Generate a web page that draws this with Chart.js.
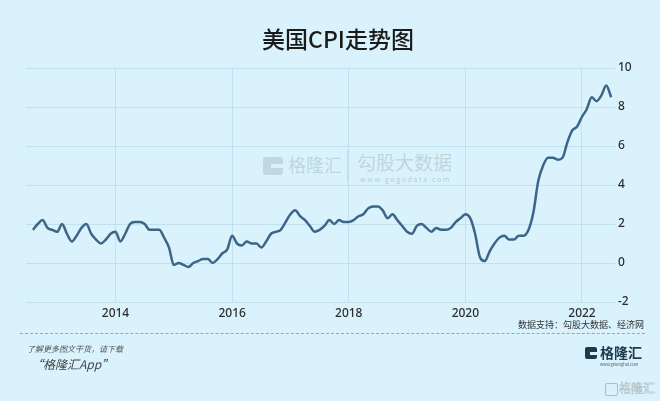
<!DOCTYPE html>
<html>
<head>
<meta charset="utf-8">
<script src="https://cdn.jsdelivr.net/npm/chart.js@4/dist/chart.umd.min.js"></script>
<style>
html,body{margin:0;padding:0;background:#d9f2fc;}
#wrap{position:relative;width:660px;height:401px;overflow:hidden;background:#d9f2fc;font-family:"Noto Sans CJK SC","Noto Sans",sans-serif;}
#c{position:absolute;left:0;top:0;}
.abs{position:absolute;white-space:nowrap;line-height:1;}
#title{left:338px;top:27px;transform:translateX(-50%);font-size:23px;color:#1b1b1b;font-weight:500;}
#src{right:16px;top:320px;font-size:9px;color:#333;}
#dash{left:20px;top:333px;width:625px;height:0;border-top:1px dashed #9aa6ac;}
#more{left:27px;top:345px;font-size:8px;color:#555;font-style:italic;}
#app{left:31px;top:358px;font-size:12px;color:#444;font-style:italic;}
#logoIcon{left:585px;top:347px;width:12px;height:12px;background:#1f3a4d;border-radius:2px;}
#logoIcon2{left:590px;top:352px;width:7px;height:3px;background:#d9f2fc;}
#logoTxt{left:600px;top:345px;font-size:14px;font-weight:700;color:#1f3a4d;}
#logoUrl{left:600px;top:362px;font-size:4px;color:#556;}
#wmIcon{left:263px;top:157px;width:20px;height:18px;background:rgba(130,150,160,0.28);border-radius:3px;}
#wmIcon2{left:271px;top:164px;width:12px;height:4px;background:#d9f2fc;}
#wm1{left:288px;top:155px;font-size:18px;color:rgba(130,150,160,0.32);}
#wmSep{left:347px;top:150px;width:1px;height:32px;background:rgba(130,150,160,0.22);}
#wm2{left:357px;top:152px;font-size:19px;color:rgba(130,150,160,0.32);}
#wm3{left:360px;top:176px;font-size:7px;letter-spacing:1.6px;color:rgba(130,150,160,0.42);}
#bIcon{left:605px;top:383px;width:11px;height:11px;border:1px solid rgba(160,175,182,0.8);border-radius:2px;}
#bTxt{left:619px;top:382px;font-size:12px;color:rgba(255,255,255,0.85);-webkit-text-stroke:0.5px rgba(150,165,172,0.8);}
</style>
</head>
<body>
<div id="wrap">
  <div class="abs" id="wmIcon"></div><div class="abs" id="wmIcon2"></div>
  <div class="abs" id="wm1">格隆汇</div>
  <div class="abs" id="wmSep"></div>
  <div class="abs" id="wm2">勾股大数据</div>
  <div class="abs" id="wm3">www.gogudata.com</div>
  <canvas id="c" width="660" height="401"></canvas>
  <div class="abs" id="title">美国CPI走势图</div>
  <div class="abs" id="src">数据支持：勾股大数据、经济网</div>
  <div class="abs" id="dash"></div>
  <div class="abs" id="more">了解更多图文干货，请下载</div>
  <div class="abs" id="app">“格隆汇App”</div>
  <div class="abs" id="logoIcon"></div><div class="abs" id="logoIcon2"></div>
  <div class="abs" id="logoTxt">格隆汇</div>
  <div class="abs" id="logoUrl">www.gelonghui.com</div>
  <div class="abs" id="bIcon"></div>
  <div class="abs" id="bTxt">格隆汇</div>
</div>
<script>
const months = [
 '2012-08','2012-09','2012-10','2012-11','2012-12',
 '2013-01','2013-02','2013-03','2013-04','2013-05','2013-06','2013-07','2013-08','2013-09','2013-10','2013-11','2013-12',
 '2014-01','2014-02','2014-03','2014-04','2014-05','2014-06','2014-07','2014-08','2014-09','2014-10','2014-11','2014-12',
 '2015-01','2015-02','2015-03','2015-04','2015-05','2015-06','2015-07','2015-08','2015-09','2015-10','2015-11','2015-12',
 '2016-01','2016-02','2016-03','2016-04','2016-05','2016-06','2016-07','2016-08','2016-09','2016-10','2016-11','2016-12',
 '2017-01','2017-02','2017-03','2017-04','2017-05','2017-06','2017-07','2017-08','2017-09','2017-10','2017-11','2017-12',
 '2018-01','2018-02','2018-03','2018-04','2018-05','2018-06','2018-07','2018-08','2018-09','2018-10','2018-11','2018-12',
 '2019-01','2019-02','2019-03','2019-04','2019-05','2019-06','2019-07','2019-08','2019-09','2019-10','2019-11','2019-12',
 '2020-01','2020-02','2020-03','2020-04','2020-05','2020-06','2020-07','2020-08','2020-09','2020-10','2020-11','2020-12',
 '2021-01','2021-02','2021-03','2021-04','2021-05','2021-06','2021-07','2021-08','2021-09','2021-10','2021-11','2021-12',
 '2022-01','2022-02','2022-03','2022-04','2022-05','2022-06','2022-07'
];
const cpi = [
 1.7,2.0,2.2,1.8,1.7,
 1.6,2.0,1.5,1.1,1.4,1.8,2.0,1.5,1.2,1.0,1.2,1.5,
 1.6,1.1,1.5,2.0,2.1,2.1,2.0,1.7,1.7,1.7,1.3,0.8,
 -0.1,0.0,-0.1,-0.2,0.0,0.1,0.2,0.2,0.0,0.2,0.5,0.7,
 1.4,1.0,0.9,1.1,1.0,1.0,0.8,1.1,1.5,1.6,1.7,2.1,
 2.5,2.7,2.4,2.2,1.9,1.6,1.7,1.9,2.2,2.0,2.2,2.1,
 2.1,2.2,2.4,2.5,2.8,2.9,2.9,2.7,2.3,2.5,2.2,1.9,
 1.6,1.5,1.9,2.0,1.8,1.6,1.8,1.7,1.7,1.8,2.1,2.3,
 2.5,2.3,1.5,0.3,0.1,0.6,1.0,1.3,1.4,1.2,1.2,1.4,
 1.4,1.7,2.6,4.2,5.0,5.4,5.4,5.3,5.4,6.2,6.8,7.0,
 7.5,7.9,8.5,8.3,8.6,9.1,8.5
];
const xTicks = [2014, 2016, 2018, 2020, 2022];
const yTicks = [-2, 0, 2, 4, 6, 8, 10];

function toYear(m){ const p = m.split('-'); return Number(p[0]) + (Number(p[1]) - 1) / 12; }
const points = months.map((m, i) => ({ x: toYear(m), y: cpi[i] }));

const gridColor = 'rgba(170,208,228,0.5)';
const tickFont = { family: '"Noto Sans", sans-serif', size: 12, weight: '500' };

new Chart(document.getElementById('c'), {
  type: 'line',
  data: { datasets: [{
    data: points,
    borderColor: '#3b6687',
    borderWidth: 2.5,
    pointRadius: 0,
    cubicInterpolationMode: 'monotone',
    fill: false
  }]},
  options: {
    responsive: false,
    animation: false,
    devicePixelRatio: 1,
    layout: { padding: { left: 26, top: 68, right: 0, bottom: 79 } },
    plugins: { legend: { display: false }, tooltip: { enabled: false } },
    scales: {
      x: {
        type: 'linear', min: 2012.465, max: 2022.566,
        afterBuildTicks: a => { a.ticks = xTicks.map(v => ({ value: v })); },
        afterFit: a => { a.height = 20; },
        grid: { color: gridColor, drawTicks: false },
        border: { display: false },
        ticks: { padding: 4, font: tickFont, color: '#2e2e2e', callback: v => String(v), maxRotation: 0 }
      },
      y: {
        position: 'right', min: -2, max: 10,
        afterBuildTicks: a => { a.ticks = yTicks.map(v => ({ value: v })); },
        afterFit: a => { a.width = 45; },
        grid: { color: gridColor, drawTicks: false },
        border: { display: false },
        ticks: { padding: 3, font: tickFont, color: '#2e2e2e' }
      }
    }
  }
});
</script>
</body>
</html>
